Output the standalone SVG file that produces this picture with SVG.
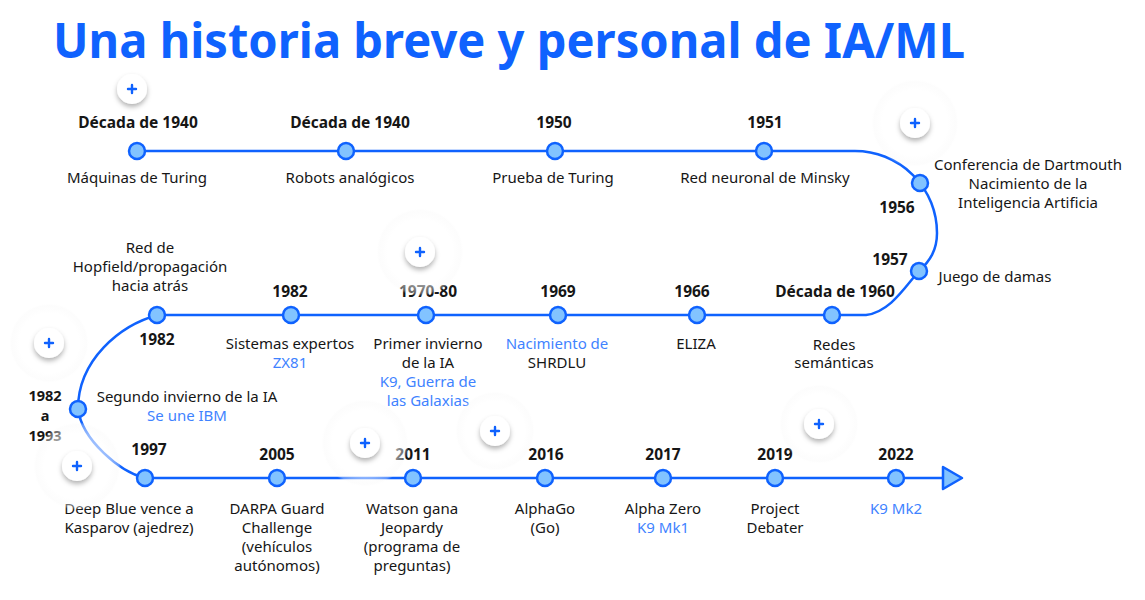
<svg xmlns="http://www.w3.org/2000/svg" width="1145" height="600" viewBox="0 0 1145 600">
<defs>
<style>
text{font-family:"Noto Sans","Open Sans","Liberation Sans",sans-serif;font-size:15px;fill:#161616;text-anchor:middle}
.yr{font-weight:700;font-size:15.5px}
.sm{font-size:14.5px}
.bl{fill:#3f83ff}
.title{font-size:48px;font-weight:700;fill:#0f62fe;text-anchor:start}
.line{fill:none;stroke:#0f62fe;stroke-width:2.5}
.node{fill:#82c3ff;stroke:#0f62fe;stroke-width:2.5}
.btn{fill:#fff;filter:url(#sh)}
.plus{stroke:#0f62fe;stroke-width:2.4;stroke-linecap:round}
.halo{fill:url(#hg)}
</style>
<filter id="sh" x="-50%" y="-50%" width="200%" height="200%">
<feDropShadow dx="0" dy="3" stdDeviation="2.5" flood-color="#000" flood-opacity="0.3"/>
</filter>
<radialGradient id="hg">
<stop offset="0" stop-color="#fff" stop-opacity="0.8"/>
<stop offset="0.75" stop-color="#fff" stop-opacity="0.55"/>
<stop offset="0.94" stop-color="#f8f8f8" stop-opacity="0.35"/>
<stop offset="1" stop-color="#fff" stop-opacity="0"/>
</radialGradient>
</defs>
<rect width="1145" height="600" fill="#fff"/>
<text class="title" x="53" y="58" textLength="912" lengthAdjust="spacingAndGlyphs">Una historia breve y personal de IA/ML</text>

<g id="connectors">
<path class="line" d="M137,151 H855 A82,82 0 0 1 937,233 C937,250 930,261 919,271 C905,287 890,312 866,315 H158 C120,325 78,360 78,409 C82,440 120,472 145,478 H943"/>
<path d="M943,467 L962,478 L943,489 Z" fill="#82c3ff" stroke="#0f62fe" stroke-width="2.5" stroke-linejoin="round"/>
</g>

<g id="n1"><circle class="node" cx="137" cy="151" r="8"/><text class="yr" x="138" y="128">Década de 1940</text><text x="137" y="183">Máquinas de Turing</text></g>
<g id="n2"><circle class="node" cx="346" cy="151" r="8"/><text class="yr" x="350" y="128">Década de 1940</text><text x="350" y="183">Robots analógicos</text></g>
<g id="n3"><circle class="node" cx="555" cy="151" r="8"/><text class="yr" x="554" y="128">1950</text><text x="553" y="183">Prueba de Turing</text></g>
<g id="n4"><circle class="node" cx="764" cy="151" r="8"/><text class="yr" x="765" y="128">1951</text><text x="765" y="183">Red neuronal de Minsky</text></g>
<g id="n5"><circle class="node" cx="920" cy="183" r="8"/><text class="yr" x="897" y="213">1956</text><text x="1028" y="170">Conferencia de Dartmouth</text><text x="1028" y="189">Nacimiento de la</text><text x="1028" y="208">Inteligencia Artificia</text></g>
<g id="n6"><circle class="node" cx="919" cy="271" r="8"/><text class="yr" x="890" y="265">1957</text><text x="995" y="282">Juego de damas</text></g>
<g id="n7"><circle class="node" cx="832" cy="315" r="8"/><text class="yr" x="835" y="297">Década de 1960</text><text x="834" y="350">Redes</text><text x="834" y="368">semánticas</text></g>
<g id="n8"><circle class="node" cx="697" cy="315" r="8"/><text class="yr" x="692" y="297">1966</text><text x="696" y="349">ELIZA</text></g>
<g id="n9"><circle class="node" cx="558" cy="315" r="8"/><text class="yr" x="558" y="297">1969</text><text class="bl" x="557" y="349">Nacimiento de</text><text x="557" y="368">SHRDLU</text></g>
<g id="n10"><circle class="node" cx="426" cy="315" r="8"/><text class="yr" x="428" y="297">1970-80</text><text x="428" y="349">Primer invierno</text><text x="428" y="368">de la IA</text><text class="bl" x="428" y="387">K9, Guerra de</text><text class="bl" x="428" y="406">las Galaxias</text></g>
<g id="n11"><circle class="node" cx="291" cy="315" r="8"/><text class="yr" x="290" y="297">1982</text><text x="290" y="349">Sistemas expertos</text><text class="bl" x="290" y="368">ZX81</text></g>
<g id="n12"><circle class="node" cx="157" cy="315" r="8"/><text class="yr" x="157" y="345">1982</text><text x="150" y="253">Red de</text><text x="150" y="272">Hopfield/propagación</text><text x="150" y="291">hacia atrás</text></g>
<g id="n13"><circle class="node" cx="78" cy="409" r="8"/><text class="yr sm" x="45" y="401">1982</text><text class="yr sm" x="45" y="421">a</text><text class="yr sm" x="45" y="441">1993</text><text x="187" y="402">Segundo invierno de la IA</text><text class="bl" x="187" y="421">Se une IBM</text></g>
<g id="n14"><circle class="node" cx="145" cy="478" r="8"/><text class="yr" x="149" y="455">1997</text><text x="129" y="514">Deep Blue vence a</text><text x="129" y="533">Kasparov (ajedrez)</text></g>
<g id="n15"><circle class="node" cx="277" cy="478" r="8"/><text class="yr" x="277" y="460">2005</text><text x="277" y="514">DARPA Guard</text><text x="277" y="533">Challenge</text><text x="277" y="552">(vehículos</text><text x="277" y="571">autónomos)</text></g>
<g id="n16"><circle class="node" cx="413" cy="478" r="8"/><text class="yr" x="413" y="460">2011</text><text x="412" y="514">Watson gana</text><text x="412" y="533">Jeopardy</text><text x="412" y="552">(programa de</text><text x="412" y="571">preguntas)</text></g>
<g id="n17"><circle class="node" cx="545" cy="478" r="8"/><text class="yr" x="546" y="460">2016</text><text x="545" y="514">AlphaGo</text><text x="545" y="533">(Go)</text></g>
<g id="n18"><circle class="node" cx="663" cy="478" r="8"/><text class="yr" x="663" y="460">2017</text><text x="663" y="514">Alpha Zero</text><text class="bl" x="663" y="533">K9 Mk1</text></g>
<g id="n19"><circle class="node" cx="775" cy="478" r="8"/><text class="yr" x="775" y="460">2019</text><text x="775" y="514">Project</text><text x="775" y="533">Debater</text></g>
<g id="n20"><circle class="node" cx="896" cy="478" r="8"/><text class="yr" x="896" y="460">2022</text><text class="bl" x="896" y="514">K9 Mk2</text></g>

<g id="buttons">
<circle class="halo" cx="915" cy="123" r="44"/>
<circle class="halo" cx="49" cy="343" r="40"/>
<circle class="halo" cx="420" cy="252" r="44"/>
<circle class="halo" cx="77" cy="466" r="44"/>
<circle class="halo" cx="365" cy="443" r="44"/>
<circle class="halo" cx="495" cy="431" r="40"/>
<circle class="halo" cx="819" cy="424" r="40"/>
<g id="b1"><circle class="btn" cx="132" cy="89" r="15"/><path class="plus" d="M128,89h8M132,85v8"/></g>
<g id="b2"><circle class="btn" cx="915" cy="123" r="15"/><path class="plus" d="M911,123h8M915,119v8"/></g>
<g id="b3"><circle class="btn" cx="49" cy="343" r="15"/><path class="plus" d="M45,343h8M49,339v8"/></g>
<g id="b4"><circle class="btn" cx="420" cy="252" r="15"/><path class="plus" d="M416,252h8M420,248v8"/></g>
<g id="b5"><circle class="btn" cx="77" cy="466" r="15"/><path class="plus" d="M73,466h8M77,462v8"/></g>
<g id="b6"><circle class="btn" cx="365" cy="443" r="15"/><path class="plus" d="M361,443h8M365,439v8"/></g>
<g id="b7"><circle class="btn" cx="495" cy="431" r="15"/><path class="plus" d="M491,431h8M495,427v8"/></g>
<g id="b8"><circle class="btn" cx="819" cy="424" r="15"/><path class="plus" d="M815,424h8M819,420v8"/></g>
</g>
</svg>
